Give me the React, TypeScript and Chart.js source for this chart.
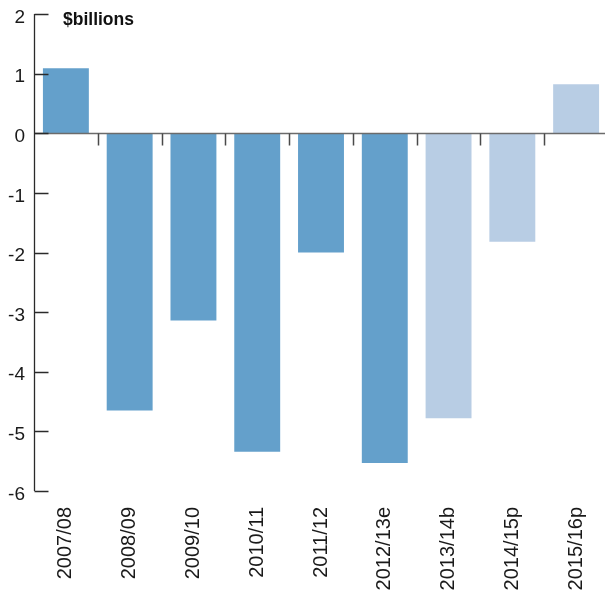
import React, { useEffect, useRef } from "react";
import { Chart, registerables } from "chart.js";

Chart.register(...registerables);

const categories = ["2007/08", "2008/09", "2009/10", "2010/11", "2011/12", "2012/13e", "2013/14b", "2014/15p", "2015/16p"];
const values = [1.09, -4.65, -3.14, -5.34, -2.0, -5.53, -4.78, -1.82, 0.82];
const isProjection = [false, false, false, false, false, false, true, true, true];
const yTicks = [2, 1, 0, -1, -2, -3, -4, -5, -6];
const unitLabel = "$billions";

const DARK = "#64A0CB";
const LIGHT = "#B8CDE4";
const FONT = "'Liberation Sans', Arial, sans-serif";

const axesPlugin = {
  id: "customAxes",
  afterDatasetsDraw(chart: any) {
    const { ctx, chartArea, scales } = chart;
    const x = scales.x;
    const y = scales.y;
    ctx.save();
    const ax = Math.round(chartArea.left) + 0.5;
    // zero line
    const zy = Math.round(y.getPixelForValue(0)) + 0.5;
    ctx.strokeStyle = "#6b6b6b";
    ctx.lineWidth = 1.5;
    ctx.beginPath();
    ctx.moveTo(chartArea.left, zy);
    ctx.lineTo(chartArea.right, zy);
    ctx.stroke();
    // y axis line
    ctx.strokeStyle = "#2a2a2a";
    ctx.lineWidth = 1.3;
    ctx.beginPath();
    ctx.moveTo(ax, y.getPixelForValue(yTicks[0]));
    ctx.lineTo(ax, y.getPixelForValue(yTicks[yTicks.length - 1]));
    yTicks.forEach((v) => {
      const py = Math.round(y.getPixelForValue(v)) + 0.5;
      ctx.moveTo(ax, py);
      ctx.lineTo(ax + 14, py);
    });
    ctx.stroke();
    // category boundary ticks
    ctx.strokeStyle = "#4a4a4a";
    ctx.lineWidth = 1.5;
    ctx.beginPath();
    for (let i = 1; i < categories.length; i++) {
      const px = Math.round((x.getPixelForValue(i - 1) + x.getPixelForValue(i)) / 2) + 0.5;
      ctx.moveTo(px, zy);
      ctx.lineTo(px, zy + 12);
    }
    ctx.stroke();
    // unit label
    ctx.fillStyle = "#111";
    ctx.font = `bold 17.5px ${FONT}`;
    ctx.textAlign = "left";
    ctx.textBaseline = "alphabetic";
    ctx.fillText(unitLabel, 63, 25);
    ctx.restore();
  },
};

export default function App() {
  const ref = useRef<HTMLCanvasElement | null>(null);
  useEffect(() => {
    if (!ref.current) return;
    const chart = new Chart(ref.current, {
      type: "bar",
      data: {
        labels: categories,
        datasets: [
          {
            data: values,
            backgroundColor: isProjection.map((p) => (p ? LIGHT : DARK)),
            borderWidth: 0,
            barPercentage: 0.72,
            categoryPercentage: 1,
          },
        ],
      },
      options: {
        responsive: false,
        animation: false,
        devicePixelRatio: 1,
        layout: { padding: { top: 14, right: 0, left: 0, bottom: 0 } },
        plugins: { legend: { display: false }, tooltip: { enabled: false } },
        scales: {
          x: {
            grid: { display: false, drawTicks: false },
            border: { display: false },
            ticks: {
              minRotation: 90,
              maxRotation: 90,
              autoSkip: false,
              padding: 16,
              color: "#1a1a1a",
              font: { family: FONT, size: 20 },
            },
            afterFit: (s: any) => {
              s.height = 102;
              s.paddingLeft = 0;
              s.paddingRight = 0;
            },
          },
          y: {
            min: -6,
            max: 2,
            grid: { display: false, drawTicks: false },
            border: { display: false },
            ticks: {
              stepSize: 1,
              padding: 9,
              color: "#1a1a1a",
              font: { family: FONT, size: 19, lineHeight: "7px" },
              callback: (v: any) => ["", String(v)],
            },
            afterFit: (s: any) => {
              s.width = 34;
              s.paddingTop = 0;
              s.paddingBottom = 0;
            },
          },
        },
      },
      plugins: [axesPlugin],
    });
    return () => chart.destroy();
  }, []);
  return (
    <div style={{ position: "fixed", left: 0, top: 0, width: 605, height: 593, overflow: "hidden", background: "#fff" }}>
      <canvas ref={ref} width={608} height={593} style={{ width: 608, height: 593, display: "block" }} />
    </div>
  );
}
